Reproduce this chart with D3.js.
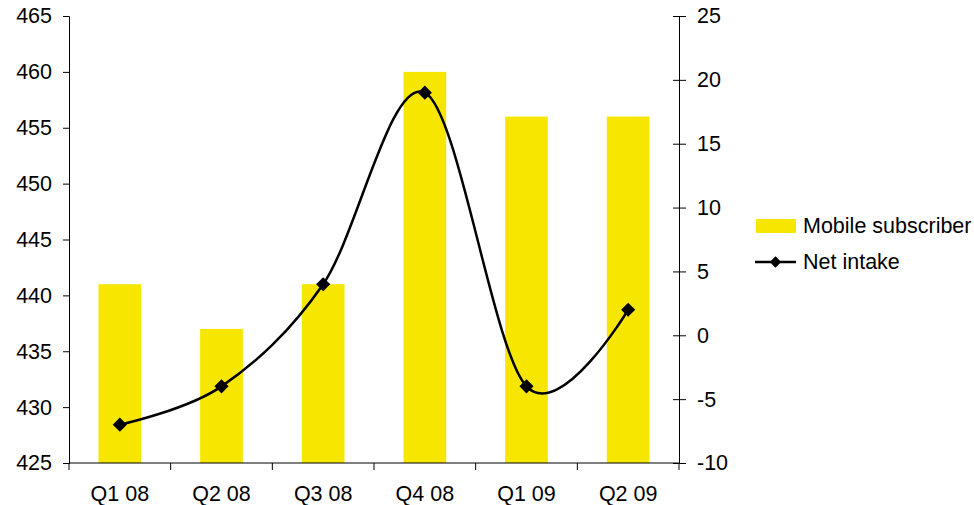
<!DOCTYPE html>
<html>
<head>
<meta charset="utf-8">
<script src="https://cdn.jsdelivr.net/npm/d3@7"></script>
<style>
  body { margin: 0; background: #fff; }
  svg text { font-family: "Liberation Sans", Arial, sans-serif; fill: #000; }
</style>
</head>
<body>
<div id="chart"></div>
<script>
// data
const quarters = ["Q1 08", "Q2 08", "Q3 08", "Q4 08", "Q1 09", "Q2 09"];
const subscribers = [441, 437, 441, 460, 456, 456];
const netIntake = [-7, -4, 4, 19, -4, 2];
const leftTicks = [425, 430, 435, 440, 445, 450, 455, 460, 465];
const rightTicks = [-10, -5, 0, 5, 10, 15, 20, 25];

const W = 974, H = 505;
const margin = {top: 16, right: 295, bottom: 42, left: 69},
    width = W - margin.left - margin.right,
    height = H - margin.top - margin.bottom;
const fontSize = "21.5px";

const svg = d3.select("#chart")
    .append("svg")
    .attr("width", W)
    .attr("height", H);

const g = svg.append("g")
    .attr("transform", `translate(${margin.left},${margin.top})`);

// scales
const x = d3.scaleBand()
    .domain(quarters)
    .range([0, width]);

const yL = d3.scaleLinear()
    .domain([425, 465])
    .range([height, 0]);

const yR = d3.scaleLinear()
    .domain([-10, 25])
    .range([height, 0]);

// bars
const barW = x.bandwidth() * 0.42;
g.selectAll("rect.bar")
    .data(subscribers)
    .join("rect")
    .attr("class", "bar")
    .attr("x", (d, i) => x(quarters[i]) + x.bandwidth() / 2 - barW / 2)
    .attr("y", d => yL(d))
    .attr("width", barW)
    .attr("height", d => height - yL(d))
    .attr("fill", "#F7E700");

// left axis
const leftAxis = g.append("g")
    .call(d3.axisLeft(yL).tickValues(leftTicks).tickSize(6).tickPadding(11));
leftAxis.selectAll("text").style("font-size", fontSize);

// right axis (ticks cross the line), plain hyphen for negatives
const rightAxis = g.append("g")
    .attr("transform", `translate(${width},0)`)
    .call(d3.axisRight(yR).tickValues(rightTicks).tickSize(7).tickPadding(11)
        .tickSizeOuter(0).tickFormat(d => String(d)));
rightAxis.selectAll(".tick line").attr("x1", -6);
rightAxis.selectAll("text").style("font-size", fontSize);

// bottom axis with ticks at category boundaries
const bottom = g.append("g")
    .attr("transform", `translate(0,${height})`);
bottom.append("line")
    .attr("x1", 0).attr("x2", width)
    .attr("stroke", "#000");
bottom.selectAll("line.tk")
    .data(d3.range(quarters.length + 1))
    .join("line")
    .attr("class", "tk")
    .attr("x1", i => i * x.step())
    .attr("x2", i => i * x.step())
    .attr("y1", 0).attr("y2", 7)
    .attr("stroke", "#000");
bottom.selectAll("text")
    .data(quarters)
    .join("text")
    .attr("x", d => x(d) + x.bandwidth() / 2)
    .attr("y", 38)
    .attr("text-anchor", "middle")
    .style("font-size", fontSize)
    .text(d => d);

svg.selectAll(".domain").attr("stroke", "#000");
svg.selectAll(".tick line").attr("stroke", "#000");

// net intake line (Excel-like smoothing)
const cx = (d, i) => x(quarters[i]) + x.bandwidth() / 2;
const line = d3.line()
    .x(cx)
    .y(d => yR(d))
    .curve(d3.curveCardinal.tension(0));

g.append("path")
    .datum(netIntake)
    .attr("d", line)
    .attr("fill", "none")
    .attr("stroke", "#000")
    .attr("stroke-width", 2.5);

const diamond = d3.symbol().type(d3.symbolSquare).size(100);
g.selectAll("path.mark")
    .data(netIntake)
    .join("path")
    .attr("class", "mark")
    .attr("d", diamond)
    .attr("transform", (d, i) => `translate(${cx(d, i)},${yR(d)}) rotate(45)`)
    .attr("fill", "#000");

// legend
const legend = svg.append("g");
legend.append("rect")
    .attr("x", 756).attr("y", 219)
    .attr("width", 40).attr("height", 14)
    .attr("fill", "#F7E700");
legend.append("text")
    .attr("x", 803).attr("y", 233)
    .style("font-size", fontSize)
    .text("Mobile subscriber");
legend.append("line")
    .attr("x1", 755).attr("x2", 796)
    .attr("y1", 262).attr("y2", 262)
    .attr("stroke", "#000").attr("stroke-width", 2.5);
legend.append("path")
    .attr("d", d3.symbol().type(d3.symbolSquare).size(64))
    .attr("transform", "translate(775.5,262) rotate(45)")
    .attr("fill", "#000");
legend.append("text")
    .attr("x", 803).attr("y", 269)
    .style("font-size", fontSize)
    .text("Net intake");
</script>
</body>
</html>
